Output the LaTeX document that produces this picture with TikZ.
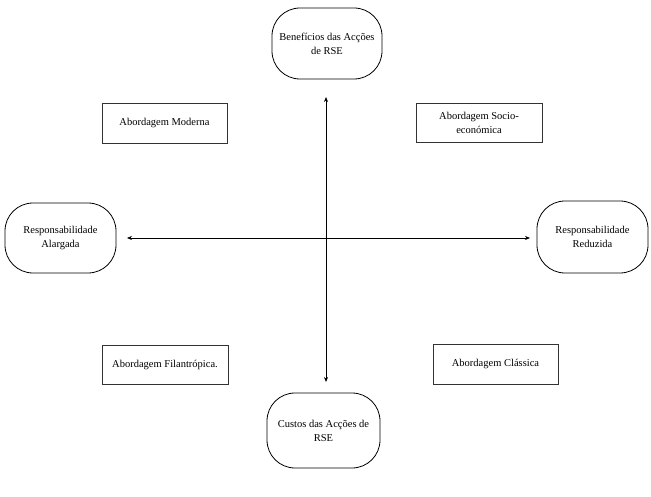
\documentclass[tikz,border=0pt]{standalone}
\usepackage{fontspec}
\setmainfont{Liberation Serif}
\usetikzlibrary{arrows.meta}
\begin{document}
\begin{tikzpicture}[x=1pt,y=-1pt,
  every node/.style={font=\fontsize{10.5}{14}\selectfont, align=center, inner sep=0pt},
  pole/.style={draw, line width=0.8pt, rounded corners=28pt},
  approach/.style={draw, line width=0.8pt, draw=black!80},
  axis/.style={line width=0.7pt, {Stealth[length=5pt,width=4pt]}-{Stealth[length=5pt,width=4pt]}}]
\useasboundingbox (0,0) rectangle (651,497);
% poles
\node[pole, minimum width=110pt, minimum height=71pt] (top) at (327,43.5) {Benefícios das Acções\\de RSE};
\node[pole, minimum width=113pt, minimum height=75pt] (bot) at (323.5,430.5) {Custos das Acções de\\RSE};
\node[pole, minimum width=111pt, minimum height=70pt] (left) at (60.5,238) {Responsabilidade\\Alargada};
\node[pole, minimum width=111pt, minimum height=72pt] (right) at (592.5,237) {Responsabilidade\\Reduzida};
% approaches
\node[approach, minimum width=125pt, minimum height=40pt] (mod) at (164.5,123) {Abordagem Moderna};
\node[approach, minimum width=126pt, minimum height=39pt] (soc) at (479,122.5) {Abordagem Socio-\\económica};
\node[approach, minimum width=126pt, minimum height=39pt] (fil) at (165,364.5) {Abordagem Filantrópica.};
\node[approach, minimum width=125pt, minimum height=40pt] (cla) at (495.5,364) {Abordagem Clássica};
% axes
\coordinate (vt) at (326,97);
\coordinate (vb) at (326,382);
\coordinate (hl) at (127,238);
\coordinate (hr) at (530,238);
\draw[axis] (vt) -- (vb);
\draw[axis] (hl) -- (hr);
\end{tikzpicture}
\end{document}
